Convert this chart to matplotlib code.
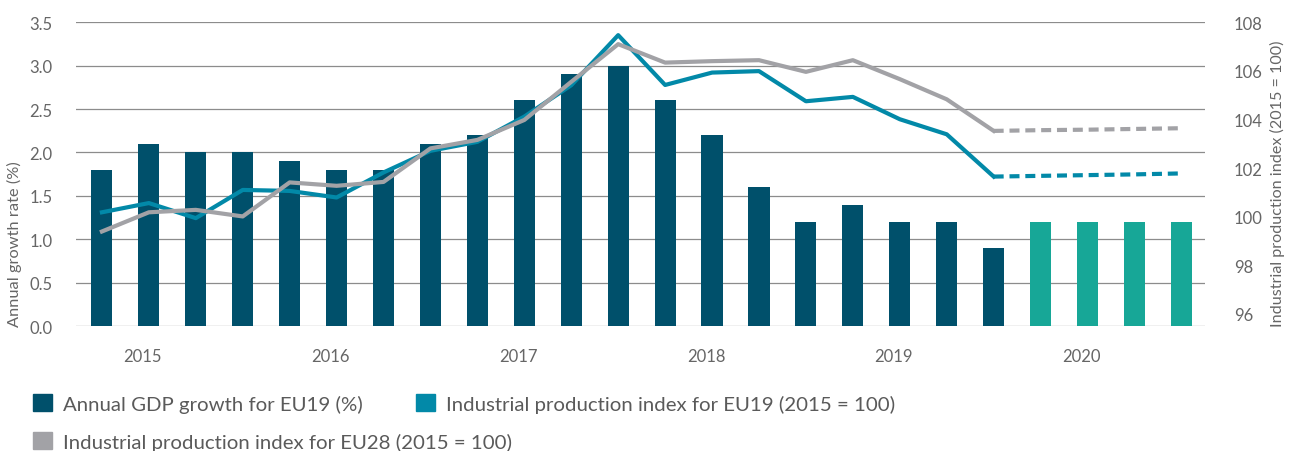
import matplotlib
matplotlib.use("Agg")
import matplotlib.pyplot as plt
from matplotlib.patches import Patch
import numpy as np

plt.rcParams['font.family'] = ['Lato', 'DejaVu Sans']

# quarterly data, 2015 Q1 .. 2020 Q4 (last four quarters are forecasts)
years = ['2015', '2016', '2017', '2018', '2019', '2020']
n_actual = 20
gdp_eu19 = [1.8, 2.1, 2.0, 2.0, 1.9, 1.8, 1.8, 2.1, 2.2, 2.6, 2.9, 3.0,
            2.6, 2.2, 1.6, 1.2, 1.4, 1.2, 1.2, 0.9, 1.2, 1.2, 1.2, 1.2]
ip_eu19 = [100.18, 100.56, 99.94, 101.10, 101.06, 100.79, 101.82, 102.71,
           103.08, 104.12, 105.41, 107.47, 105.42, 105.93, 105.99, 104.75,
           104.93, 104.01, 103.39, 101.65, 101.68, 101.71, 101.74, 101.78]
ip_eu28 = [99.39, 100.18, 100.28, 100.01, 101.41, 101.27, 101.43, 102.81,
           103.16, 103.98, 105.55, 107.10, 106.34, 106.40, 106.44, 105.96,
           106.44, 105.66, 104.83, 103.53, 103.56, 103.58, 103.61, 103.64]

DARK = '#00506b'
FORECAST = '#17a797'
TEAL = '#0289a8'
GREY = '#a2a2a6'
TXT = '#666666'

x = np.arange(len(gdp_eu19))
bar_colors = [DARK if i < n_actual else FORECAST for i in x]

fig = plt.figure(figsize=(12.9, 4.52), dpi=100)
ax = fig.add_axes([0.059, 0.2765, 0.875, 0.672])
ax2 = ax.twinx()

ax.bar(x, gdp_eu19, width=0.45, color=bar_colors, zorder=2)
ax.set_ylim(0, 3.5)
ax.set_yticks(np.arange(0, 3.51, 0.5))
ax.set_yticklabels([f'{v:.1f}' for v in np.arange(0, 3.51, 0.5)])
ax.grid(axis='y', color='#8c8c8c', linewidth=0.9, zorder=0)
ax.set_axisbelow(True)
ax.set_xlim(-0.55, 23.5)
ax.set_xticks(np.arange(len(years)) * 4 + 0.87)
ax.set_xticklabels(years)

# industrial production: solid for actuals, dashed for forecast
ax2.plot(x[:n_actual], ip_eu19[:n_actual], color=TEAL, lw=3, zorder=3)
ax2.plot(x[n_actual - 1:], ip_eu19[n_actual - 1:], color=TEAL, lw=3,
         linestyle=(0, (2.4, 1.4)), zorder=3)
ax2.plot(x[:n_actual], ip_eu28[:n_actual], color=GREY, lw=3, zorder=4)
ax2.plot(x[n_actual - 1:], ip_eu28[n_actual - 1:], color=GREY, lw=3,
         linestyle=(0, (2.4, 1.4)), zorder=4)
ax2.set_ylim(95.5, 108)
ax2.set_yticks(range(96, 109, 2))

for a in (ax, ax2):
    for s in a.spines.values():
        s.set_visible(False)
    a.tick_params(length=0, labelsize=12, colors=TXT)
ax.tick_params(axis='y', pad=17)
ax.tick_params(axis='x', pad=16)
ax2.tick_params(axis='y', pad=21)

fig.text(0.0115, 0.2765, 'Annual growth rate (%)', rotation=90,
         ha='center', va='bottom', fontsize=11.8, color=TXT)
fig.text(0.99, 0.2765, 'Industrial production index (2015 = 100)',
         rotation=90, ha='center', va='bottom', fontsize=11.6, color=TXT)

legend_items = [
    (DARK, 'Annual GDP growth for EU19 (%)', 33, 404.5),
    (TEAL, 'Industrial production index for EU19 (2015 = 100)', 416, 404.5),
    (GREY, 'Industrial production index for EU28 (2015 = 100)', 33, 442.5),
]
for color, label, px, py in legend_items:
    fig.legend(handles=[Patch(color=color, label=label)], loc='center left',
               bbox_to_anchor=(px / 1290, 1 - py / 452), frameon=False,
               borderpad=0, borderaxespad=0, handlelength=0.93,
               handleheight=0.93, handletextpad=0.54, fontsize=14.7,
               labelcolor='#5a5a5a')

fig.savefig('out.png', dpi=100)
